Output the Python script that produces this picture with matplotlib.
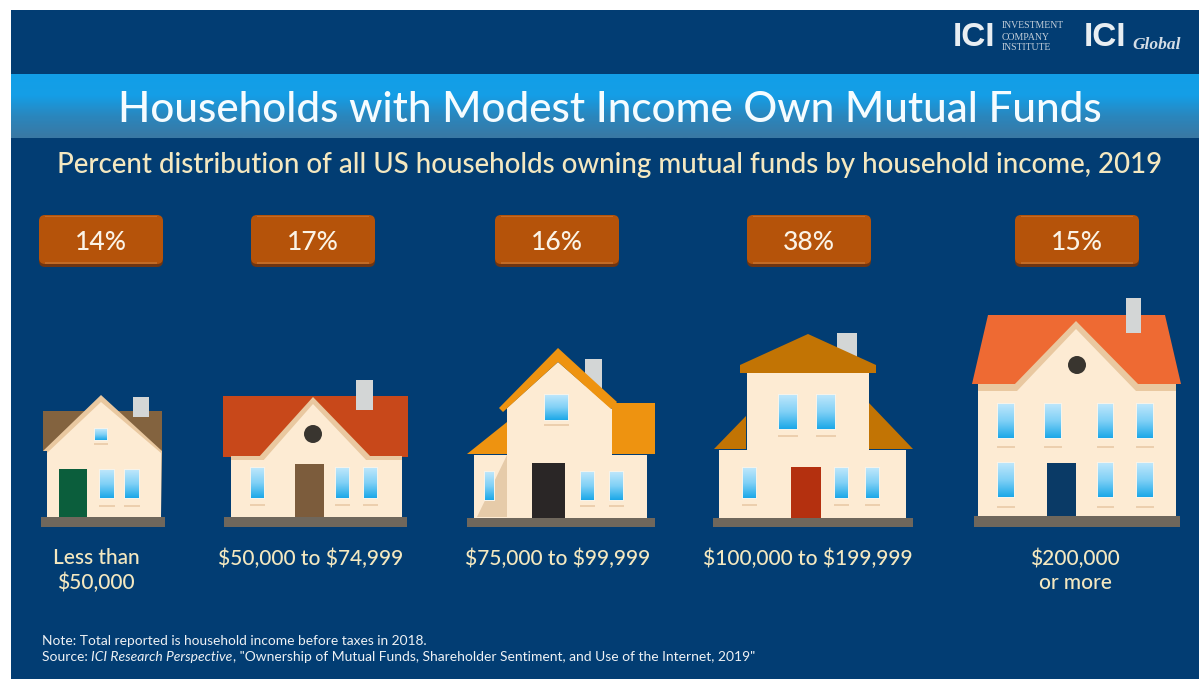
import numpy as np
import matplotlib
matplotlib.use('Agg')
import matplotlib.pyplot as plt
from matplotlib.colors import LinearSegmentedColormap
from matplotlib.patches import Circle, FancyBboxPatch, Polygon, Rectangle

# Values
income_shares = [14, 17, 16, 38, 15]
income_labels = ['Less than\n\\$50,000', '\\$50,000 to \\$74,999', '\\$75,000 to \\$99,999',
                 '\\$100,000 to \\$199,999', '\\$200,000\nor more']

title = 'Households with Modest Income Own Mutual Funds'
subtitle = 'Percent distribution of all US households owning mutual funds by household income, 2019'
note = 'Note: Total reported is household income before taxes in 2018.'
source_parts = [('Source: ', 'normal'), ('ICI Research Perspective', 'italic'),
                (', "Ownership of Mutual Funds, Shareholder Sentiment, and Use of the Internet, 2019"', 'normal')]

NAVY = '#023d73'
CREAM = '#fdebd3'
TRIM = '#e9c8a0'
BASE = '#6f675c'
CHIMNEY = '#d3d6d6'
TAN_TEXT = '#f4e8c0'

plt.rcParams['font.family'] = ['Lato', 'DejaVu Sans']
fig = plt.figure(figsize=(11.99, 6.79), dpi=100)
ax = fig.add_axes([0, 0, 1, 1])
ax.set_axis_off()

# work in picture pixels, y going down
ax.add_patch(Rectangle((11, 10), 1188, 669, color=NAVY, lw=0, zorder=0))


def gradient(x0, x1, y0, y1, colors, z=1):
    cmap = LinearSegmentedColormap.from_list('g', colors)
    ax.imshow(np.linspace(0, 1, 64).reshape(-1, 1), cmap=cmap, extent=(x0, x1, y1, y0),
              aspect='auto', zorder=z, interpolation='bilinear')


def poly(points, color, z=3):
    ax.add_patch(Polygon(points, closed=True, color=color, lw=0, zorder=z))


def box(x0, x1, y0, y1, color, z=3):
    ax.add_patch(Rectangle((x0, y0), x1 - x0, y1 - y0, color=color, lw=0, zorder=z))


def window(x0, x1, y0, y1, sill=None):
    box(x0 - 1, x1 + 1, y0 - 1, y1 + 1, '#f6f3ea', z=5)
    gradient(x0, x1, y0, y1, ['#bce6fb', '#7fd0f6', '#1ca8e8'], z=6)
    if sill is not None:
        box(x0 - 1, x1 + 1, sill, sill + 2, '#eccfae', z=5)


def door(x0, x1, y0, y1, color):
    box(x0, x1, y0, y1, color, z=6)


# Header band, title and subtitle
gradient(11, 1199, 74, 138, ['#129fe8', '#159ee6', '#2a86bd', '#3a78a3'])
ax.text(609.5, 109.5, title, color='#f5fcff', fontsize=30.4, fontweight='medium', ha='center', va='center', zorder=8)
ax.text(610, 164.5, subtitle, color=TAN_TEXT, fontsize=19.9, fontweight='medium', ha='center', va='center', zorder=8)

# Logos
ax.text(953, 38, 'ICI', color='#e8eef2', fontsize=24, fontweight='bold', ha='left', va='center',
        family='Liberation Sans', zorder=8)
for y_text, word in zip([26, 37, 47], ['INVESTMENT', 'COMPANY', 'INSTITUTE']):
    ax.text(1002, y_text, word, color='#c3ced9', fontsize=7, family='Liberation Serif',
            ha='left', va='center', zorder=8)
ax.text(1084, 38, 'ICI', color='#e8eef2', fontsize=24, fontweight='bold', ha='left', va='center',
        family='Liberation Sans', zorder=8)
ax.text(1132, 45, 'Global', color='#d5dee6', fontsize=12.5, style='italic', fontweight='bold',
        family='Liberation Serif', ha='left', va='center', zorder=8)

# Percent badges
badge_centers = [101, 313, 557, 809, 1077]
for cx, share in zip(badge_centers, income_shares):
    ax.add_patch(FancyBboxPatch((cx - 60, 224), 120, 41, boxstyle='round,pad=2,rounding_size=6',
                                fc='#6e3512', ec='none', zorder=2))
    ax.add_patch(FancyBboxPatch((cx - 60, 217), 120, 45, boxstyle='round,pad=2,rounding_size=6',
                                fc='#b5530a', ec='none', zorder=3))
    box(cx - 56, cx + 56, 215.5, 217, '#c26a25', z=4)
    box(cx - 56, cx + 56, 262, 263.5, '#c26a25', z=4)
    ax.text(cx, 242, f'{share}%', color='#fbf3e6', fontsize=19, fontweight='medium',
            ha='center', va='center', zorder=8)

# House 1: brown roof
box(41, 165, 517, 527, BASE)
poly([(43, 411), (162, 411), (162, 451), (43, 451)], '#83633f')
box(133, 149, 397, 417, CHIMNEY, z=4)
poly([(43, 451), (101, 395), (162, 451), (161, 517), (47, 517), (47, 451)], TRIM, z=4)
poly([(47, 453), (101, 402), (161, 453), (161, 517), (47, 517)], CREAM, z=4)
window(95, 107, 429, 440, 443)
door(59, 87, 469, 517, '#0b5e3c')
window(100, 114, 470, 498, 505)
window(125, 139, 470, 498, 505)

# House 2: red roof
box(224, 407, 517, 527, BASE)
poly([(223, 396), (408, 396), (408, 457), (223, 457)], '#c8481a')
box(356, 373, 380, 410, CHIMNEY, z=4)
box(231, 402, 456, 517, CREAM)
box(231, 402, 456, 460, TRIM, z=3)
poly([(258, 458), (313, 397), (372, 458)], TRIM, z=4)
poly([(262, 462), (313, 404), (368, 462)], CREAM, z=4)
box(258, 368, 460, 470, CREAM, z=4)
ax.add_patch(Circle((313, 434), 9, color='#39352f', lw=0, zorder=5))
door(295, 324, 464, 517, '#7c5c3c')
window(251, 264, 468, 498, 504)
window(336, 349, 468, 498, 504)
window(364, 377, 468, 498, 504)

# House 3: orange roof with annex
box(467, 655, 518, 527, BASE)
box(474, 647, 455, 518, CREAM)
poly([(507, 455), (477, 517), (507, 517)], '#e6cba9', z=4)
poly([(507, 422), (467, 454), (507, 454)], '#ee9310', z=4)
box(612, 655, 403, 454, '#ee9310', z=4)
box(585, 602, 359, 392, CHIMNEY, z=2)
poly([(499, 408), (558, 348), (617, 402), (611, 409), (558, 362), (503, 412)], '#ee9310', z=5)
poly([(507, 408), (558, 362), (612, 409), (612, 518), (507, 518)], CREAM, z=4)
window(545, 568, 395, 420, 424)
door(532, 565, 463, 518, '#2a2626')
window(485, 494, 472, 500)
window(581, 594, 472, 500, 505)
window(610, 623, 472, 500, 505)

# House 4: two storey
box(713, 913, 518, 527, BASE)
box(719, 906, 450, 518, CREAM)
poly([(746, 416), (714, 449), (746, 449)], '#c27404', z=4)
poly([(869, 403), (913, 449), (869, 449)], '#c27404', z=4)
box(837, 857, 333, 360, CHIMNEY, z=2)
box(747, 869, 370, 450, CREAM, z=4)
poly([(808, 334), (876, 365), (876, 373), (740, 373), (740, 365)], '#c27404', z=5)
window(779, 797, 395, 429, 435)
window(817, 835, 395, 429, 435)
door(791, 821, 467, 518, '#b4300f')
window(743, 756, 468, 498, 504)
window(835, 848, 468, 498, 504)
window(866, 879, 468, 498, 504)

# House 5: largest
box(974, 1180, 516, 527, BASE)
box(1126, 1141, 298, 333, CHIMNEY, z=5)
poly([(988, 315), (1165, 315), (1181, 384), (972, 384)], '#ee6a33')
box(978, 1176, 385, 516, CREAM)
box(978, 1176, 384, 391, TRIM, z=3)
poly([(1013, 386), (1076, 321), (1140, 386)], TRIM, z=4)
poly([(1017, 391), (1076, 329), (1136, 391)], CREAM, z=4)
ax.add_patch(Circle((1077, 365), 9, color='#39352f', lw=0, zorder=5))
for wx0, wx1 in [(998, 1014), (1045, 1061), (1098, 1113), (1137, 1153)]:
    window(wx0, wx1, 404, 438, 446)
for wx0, wx1 in [(998, 1014), (1098, 1113), (1137, 1153)]:
    window(wx0, wx1, 463, 497, 506)
door(1047, 1076, 463, 516, '#0a3a66')

# Income labels under the houses
label_centers = [96, 311, 558, 808, 1075]
for cx, label in zip(label_centers, income_labels):
    ax.text(cx, 548.5, label, color=TAN_TEXT, fontsize=15, fontweight='medium', ha='center', va='top',
            linespacing=1.25, zorder=8)

# Footnotes
ax.text(42, 641, note, color='#eef1f4', fontsize=9.9, va='center', ha='left', zorder=8)
ax.set_xlim(0, 1199)
ax.set_ylim(679, 0)
fig.canvas.draw()
renderer = fig.canvas.get_renderer()
x_pos = 42
for part, style in source_parts:
    t = ax.text(x_pos, 657, part, color='#eef1f4', fontsize=10, style=style, va='center', ha='left', zorder=8)
    x_pos = t.get_window_extent(renderer).x1

ax.set_xlim(0, 1199)
ax.set_ylim(679, 0)
fig.savefig('out.png', dpi=100, facecolor='white')
